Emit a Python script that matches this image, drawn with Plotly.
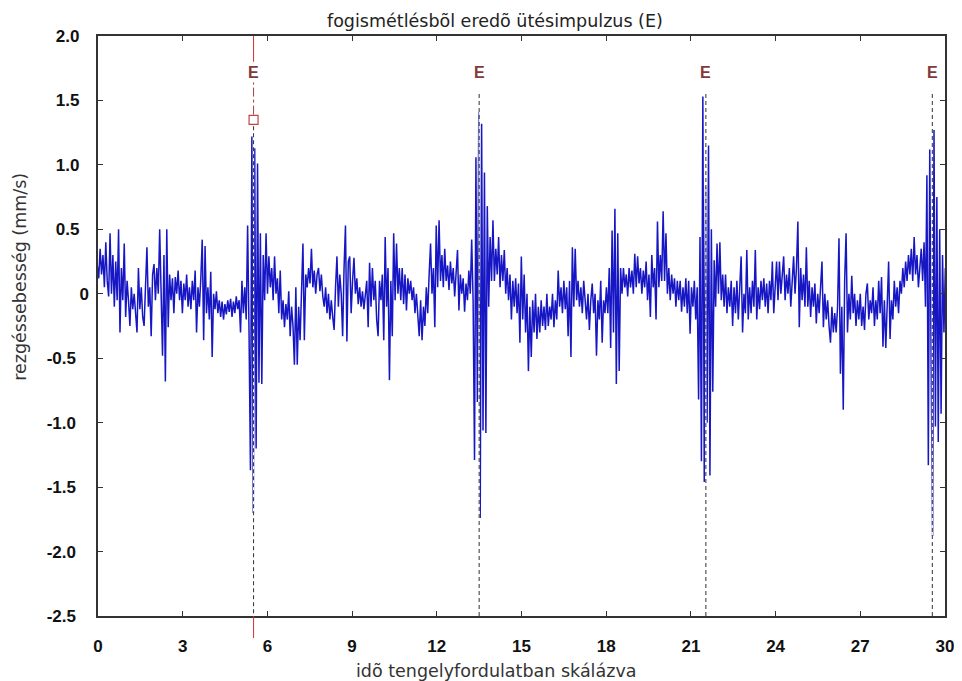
import plotly.graph_objects as go

# ---- data ----
sample_start = -0.025      # time of first sample (shaft revolutions)
sample_step = 0.05023      # sampling step (shaft revolutions)

velocity = [
    # 0 .. 1
    0.22, 0.12, 0.35, 0.15, 0.30, 0.05, 0.40, 0.10, -0.02, 0.47, 0.00, 0.30, -0.10, 0.25, -0.05, 0.50, -0.30, 0.20, -0.05, 0.39,
    # 1 .. 2
    -0.18, 0.10, -0.05, -0.25, 0.05, -0.12, 0.00, -0.15, -0.30, 0.20, -0.12, 0.05, -0.18, -0.25, 0.10, 0.36, -0.10, 0.05, -0.33, 0.15,
    # 2 .. 3
    0.23, -0.05, 0.20, 0.00, 0.50, -0.10, -0.48, 0.30, -0.68, 0.50, -0.26, 0.15, -0.05, 0.12, -0.15, 0.13, 0.00, 0.18, -0.05, 0.10,
    # 3 .. 4
    -0.15, 0.08, -0.05, 0.15, -0.10, 0.05, -0.12, 0.10, -0.05, 0.18, -0.30, 0.05, -0.10, 0.12, 0.42, -0.36, 0.37, -0.15, 0.05, -0.20,
    # 4 .. 5
    0.17, -0.49, 0.00, -0.12, 0.02, -0.15, -0.05, -0.18, -0.06, -0.20, -0.08, -0.16, -0.05, -0.14, -0.04, -0.18, -0.06, -0.15, -0.02, -0.12,
    # 5 .. 6
    -0.05, -0.30, 0.10, -0.15, 0.05, -0.20, 0.53, -0.30, -1.37, 1.22, -1.70, 1.13, -1.20, 1.01, -0.69, 0.47, -0.70, 0.30, -0.05, 0.47,
    # 6 .. 7
    0.00, 0.29, 0.05, 0.20, -0.05, 0.29, 0.00, 0.12, -0.15, 0.18, -0.20, -0.05, -0.26, -0.08, -0.20, 0.02, -0.33, -0.10, -0.25, -0.55,
    # 7 .. 8
    0.05, -0.55, -0.10, -0.36, 0.00, 0.39, -0.36, 0.15, 0.05, 0.20, 0.08, 0.35, 0.05, 0.18, 0.00, 0.15, 0.20, 0.02, 0.15, -0.02,
    # 8 .. 9
    -0.10, 0.05, -0.15, 0.00, -0.20, -0.05, -0.18, -0.28, 0.05, 0.29, -0.10, 0.15, 0.00, -0.33, 0.20, 0.53, -0.37, 0.25, 0.29, -0.15,
    # 9 .. 10
    0.10, 0.28, 0.00, 0.12, -0.08, 0.05, -0.10, 0.02, -0.12, 0.00, 0.10, -0.26, 0.24, -0.10, 0.20, -0.05, 0.10, -0.20, -0.33, 0.10,
    # 10 .. 11
    -0.05, 0.15, -0.36, 0.44, -0.10, 0.20, -0.67, 0.10, -0.33, 0.47, -0.05, 0.39, 0.00, 0.20, -0.05, 0.20, -0.08, 0.15, -0.13, 0.12,
    # 11 .. 12
    0.00, 0.10, -0.05, 0.05, -0.15, 0.00, -0.20, -0.33, -0.05, -0.36, -0.10, -0.25, 0.05, -0.15, 0.15, 0.39, 0.00, 0.20, -0.26, 0.53,
    # 12 .. 13
    0.05, 0.57, 0.10, 0.30, 0.05, 0.35, 0.10, 0.22, 0.03, 0.25, 0.08, 0.20, -0.02, 0.18, 0.34, -0.13, 0.15, 0.00, 0.12, -0.14,
    # 13 .. 14
    0.08, -0.05, 0.18, 0.00, 0.42, -0.05, -1.29, 1.06, -0.84, 1.41, -1.74, 1.32, -1.06, 0.94, -1.08, 0.68, -0.10, 0.44, 0.10, 0.57,
    # 14 .. 15
    0.10, 0.35, 0.15, 0.44, 0.05, 0.30, 0.10, 0.34, 0.00, 0.20, -0.05, 0.15, -0.20, 0.10, -0.10, 0.12, -0.15, 0.08, -0.38, 0.29,
    # 15 .. 16
    -0.20, 0.15, -0.30, 0.00, -0.60, -0.10, -0.49, -0.05, -0.30, 0.00, -0.35, -0.10, -0.30, -0.05, -0.25, -0.10, -0.28, 0.00, -0.25, -0.10,
    # 16 .. 17
    -0.20, 0.00, -0.26, -0.05, -0.20, 0.18, -0.10, 0.05, -0.15, 0.10, -0.12, 0.05, -0.33, 0.10, -0.49, 0.36, -0.10, 0.35, -0.05, 0.10,
    # 17 .. 18
    -0.10, 0.05, -0.15, 0.10, -0.05, -0.20, 0.00, -0.28, -0.05, 0.08, -0.15, 0.00, -0.48, -0.05, -0.20, 0.10, -0.38, -0.05, -0.15, 0.05,
    # 18 .. 19
    -0.15, 0.20, -0.42, 0.49, -0.30, 0.66, -0.70, 0.47, -0.60, 0.20, 0.00, 0.20, 0.05, 0.15, -0.02, 0.20, 0.05, 0.18, 0.00, 0.31,
    # 19 .. 20
    0.05, 0.29, 0.08, 0.20, 0.00, 0.18, 0.05, 0.25, -0.05, 0.15, -0.18, 0.30, 0.05, 0.20, -0.20, 0.56, 0.05, 0.30, 0.10, 0.64,
    # 20 .. 21
    0.10, 0.47, 0.00, 0.20, -0.05, 0.15, 0.00, 0.12, -0.10, 0.10, -0.05, 0.10, -0.14, 0.05, -0.10, 0.12, -0.15, 0.10, -0.31, 0.05,
    # 21 .. 22
    -0.10, 0.10, -0.20, 0.05, -0.82, 0.44, -1.30, 1.53, -1.46, 0.83, -1.00, 1.15, -1.41, 0.50, -0.76, 0.26, -0.10, 0.39, 0.00, 0.40,
    # 22 .. 23
    -0.05, 0.15, -0.10, 0.15, -0.15, 0.05, -0.10, 0.10, -0.25, 0.05, -0.15, 0.10, -0.20, 0.05, 0.29, -0.30, 0.00, -0.15, 0.34, -0.20,
    # 23 .. 24
    0.05, -0.15, 0.10, -0.10, 0.34, -0.20, 0.05, -0.12, 0.10, -0.05, 0.12, -0.10, 0.08, -0.15, 0.10, -0.05, 0.25, -0.15, 0.10, 0.25,
    # 24 .. 25
    -0.05, 0.25, 0.00, 0.15, 0.29, -0.05, 0.15, 0.00, 0.20, -0.10, 0.15, 0.29, 0.00, 0.20, 0.56, -0.26, 0.20, -0.05, 0.15, -0.10,
    # 25 .. 26
    0.36, -0.10, 0.10, -0.18, 0.05, -0.10, 0.08, -0.23, 0.00, -0.15, 0.05, 0.25, -0.26, 0.00, -0.20, -0.05, -0.25, -0.38, -0.10, -0.30,
    # 26 .. 27
    -0.15, -0.30, -0.10, 0.43, -0.62, -0.10, -0.90, 0.10, 0.47, -0.30, 0.00, -0.20, 0.14, -0.15, 0.00, -0.25, -0.05, -0.20, 0.00, -0.25,
    # 27 .. 28
    -0.10, -0.28, 0.00, 0.08, -0.20, -0.05, -0.15, 0.05, -0.25, -0.05, -0.20, 0.10, -0.15, 0.13, -0.41, -0.05, -0.42, 0.00, 0.25, -0.35,
    # 28 .. 29
    -0.05, -0.20, 0.10, -0.10, 0.05, -0.15, 0.10, 0.00, 0.20, 0.05, 0.25, 0.10, 0.30, 0.15, 0.35, 0.10, 0.44, 0.15, 0.30, 0.05,
    # 29 .. 30
    0.20, 0.35, 0.10, 0.40, -0.10, 0.92, -1.33, 1.12, -0.57, -1.88, 1.27, -1.03, 0.75, -1.15, 0.50, -0.93, 0.30, -0.30, 0.20, -0.10,
    0.10,
]

event_times = [5.51, 13.50, 21.53, 29.55]     # tooth-repetition impacts (E)
event_label = "E"
event_label_y = 1.72
event_line_top = 1.55
cursor_time = event_times[0]
cursor_marker_y = 1.35

x_ticks = [0, 3, 6, 9, 12, 15, 18, 21, 24, 27, 30]
y_ticks = [2.0, 1.5, 1.0, 0.5, 0.0, -0.5, -1.0, -1.5, -2.0, -2.5]
y_tick_labels = ["2.0", "1.5", "1.0", "0.5", "0", "-0.5", "-1.0", "-1.5", "-2.0", "-2.5"]

title_text = "fogismétlésbõl eredõ ütésimpulzus (E)"
x_title = "idõ tengelyfordulatban skálázva"
y_title = "rezgéssebesség (mm/s)"

# ---- figure ----
times = [sample_start + i * sample_step for i in range(len(velocity))]

def pad_label(t):
    if t == "0":
        return t
    if t.startswith("-"):
        return t + "\u2007\u2009"
    return t + "\u2007"

fig = go.Figure()
fig.add_trace(go.Scatter(
    x=times, y=velocity, mode="lines",
    line=dict(color="#1616c4", width=1.5),
    hoverinfo="skip", showlegend=False,
))
fig.add_trace(go.Scatter(
    x=[cursor_time], y=[cursor_marker_y], mode="markers",
    marker=dict(symbol="square-open", size=9, color="#c04545", line=dict(width=1.2)),
    hoverinfo="skip", showlegend=False,
))

shapes = []
# red cursor at first event
shapes.append(dict(type="line", xref="x", yref="y", x0=cursor_time, x1=cursor_time,
                   y0=1.80, y1=2.0, line=dict(color="#d03030", width=1)))
shapes.append(dict(type="line", xref="x", yref="y", x0=cursor_time, x1=cursor_time,
                   y0=cursor_marker_y + 0.04, y1=1.64, line=dict(color="#a04040", width=1, dash="dashdot")))
shapes.append(dict(type="line", xref="x", yref="paper", x0=cursor_time, x1=cursor_time,
                   y0=-0.038, y1=0, line=dict(color="#d03030", width=1)))
for i, t in enumerate(event_times):
    top = cursor_marker_y - 0.05 if i == 0 else event_line_top
    shapes.append(dict(type="line", xref="x", yref="y", x0=t, x1=t, y0=top, y1=-2.5,
                       line=dict(color="white", width=1.2)))
    shapes.append(dict(type="line", xref="x", yref="y", x0=t, x1=t, y0=top, y1=-2.5,
                       line=dict(color="#303030", width=1, dash="4px,3px")))

annotations = []
for t in event_times:
    annotations.append(dict(x=t, y=event_label_y, xref="x", yref="y", text="<b>" + event_label + "</b>",
                            showarrow=False, font=dict(family="Liberation Sans", size=16, color="#7f3a3a"),
                            xanchor="center", yanchor="middle"))
text_font = dict(family="DejaVu Sans", size=17.5)
annotations.append(dict(x=0.4685, y=1.026, xref="paper", yref="paper", text=title_text,
                        showarrow=False, font=dict(text_font, color="#222"),
                        xanchor="center", yanchor="middle"))
annotations.append(dict(x=0.4696, y=-0.095, xref="paper", yref="paper", text=x_title,
                        showarrow=False, font=dict(text_font, color="#333"),
                        xanchor="center", yanchor="middle"))
annotations.append(dict(x=-0.0923, y=0.5845, xref="paper", yref="paper", text=y_title,
                        showarrow=False, textangle=-90,
                        font=dict(text_font, color="#333"),
                        xanchor="center", yanchor="middle"))

# the page body adds an 8 px margin, so the figure is 8 px smaller than the window
fig.update_layout(
    width=954, height=673,
    margin=dict(l=90, r=8, t=28, b=65),
    paper_bgcolor="white", plot_bgcolor="white",
    shapes=shapes, annotations=annotations,
    showlegend=False,
)
axis_common = dict(showline=True, linecolor="#333", linewidth=1.5, mirror="ticks",
                   ticks="inside", ticklen=5, tickwidth=1, tickcolor="#333",
                   showgrid=False, zeroline=False,
                   tickfont=dict(family="Liberation Sans", size=17, color="#111", weight="bold"))
fig.update_xaxes(range=[0, 30], tickmode="array", tickvals=x_ticks,
                 ticktext=[str(v) for v in x_ticks], ticklabelstandoff=14, **axis_common)
fig.update_yaxes(range=[-2.5, 2.0], tickmode="array", tickvals=y_ticks,
                 ticktext=[pad_label(t) for t in y_tick_labels], ticklabelstandoff=4, **axis_common)

fig.write_html("out.html")
